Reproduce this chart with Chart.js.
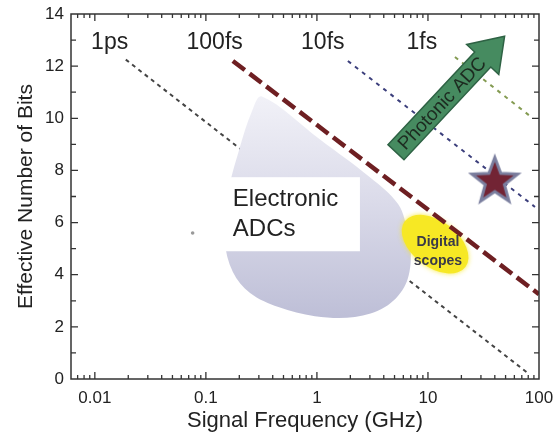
<!DOCTYPE html>
<html>
<head>
<meta charset="utf-8">
<script src="https://cdn.jsdelivr.net/npm/chart.js@4.4.1/dist/chart.umd.min.js"></script>
<style>
  html, body { margin: 0; padding: 0; background: #fff; }
  #wrap { width: 554px; height: 439px; position: relative; }
</style>
</head>
<body>
<div id="wrap"><canvas id="enobChart"></canvas></div>
<script>
// axis ticks
const xMajorTicks = [0.01, 0.1, 1, 10, 100];
const xTickLabels = ["0.01", "0.1", "1", "10", "100"];
const yTicks = [0, 2, 4, 6, 8, 10, 12, 14];

// jitter-limit lines, [start, end] in GHz / ENOB
const jitterNames = ["1ps", "100fs", "10fs", "1fs"];
const jitterFreq = [[0.019, 78], [0.175, 100], [1.9, 92], [17.5, 88]];
const jitterEnob = [[12.25, 0.25], [12.2, 3.25], [12.2, 6.6], [12.35, 10.0]];
const jitterLabelFreq = [0.0136, 0.12, 1.13, 8.8];
const jitterLabelEnob = 12.9;

// outline of the electronic ADC cloud
const regionFreq = [1.06, 3.0, 5.4, 6.6, 7.0, 6.1, 4.1, 2.2, 0.96, 0.45, 0.25, 0.175, 0.148, 0.158, 0.20, 0.26, 0.32, 1.06];
const regionEnob = [9.2, 7.74, 6.7, 5.56, 4.52, 3.52, 2.76, 2.38, 2.41, 2.76, 3.3, 4.1, 5.3, 7.09, 8.81, 10.27, 10.84, 9.2];

// stray point left of the cloud
const strayFreq = [0.076];
const strayEnob = [5.6];

// photonic ADC result
const starFreq = [40];
const starEnob = [7.65];

const FONT = "'Liberation Sans', Arial, sans-serif";

// minor log ticks between decades
const xMinorTicks = [];
[0.001, 0.01, 0.1, 1, 10].forEach(d => {
  for (let m = 2; m <= 9; m++) xMinorTicks.push(+(d * m).toPrecision(3));
});
const xAllTicks = xMinorTicks.concat(xMajorTicks).sort((a, b) => a - b);

function toPoints(xs, ys) {
  return xs.map((v, i) => ({ x: v, y: ys[i] }));
}

function starImage(size) {
  const c = document.createElement("canvas");
  c.width = c.height = size;
  const g = c.getContext("2d");
  const cx = size / 2, cy = size / 2 + 2, R = size / 2 - 3, r = R * 0.42;
  g.beginPath();
  for (let i = 0; i < 10; i++) {
    const a = -Math.PI / 2 + i * Math.PI / 5;
    const rad = i % 2 ? r : R;
    g.lineTo(cx + rad * Math.cos(a), cy + rad * Math.sin(a));
  }
  g.closePath();
  g.fillStyle = "#722434";
  g.fill();
  g.lineWidth = 3;
  g.strokeStyle = "#7b7f9f";
  g.stroke();
  return c;
}

const jitterStyles = [
  { color: "#444444", width: 2, dash: [4, 4] },
  { color: "#6e1f22", width: 4.5, dash: [15, 6] },
  { color: "#3c3f7c", width: 2, dash: [4, 5] },
  { color: "#849b52", width: 2, dash: [4, 5] }
];
const jitterOrder = [6, 4, 3, 2];

const datasets = jitterNames.map((name, i) => ({
  label: name,
  data: toPoints(jitterFreq[i], jitterEnob[i]),
  showLine: true,
  borderColor: jitterStyles[i].color,
  borderWidth: jitterStyles[i].width,
  borderDash: jitterStyles[i].dash,
  pointRadius: 0,
  fill: false,
  order: jitterOrder[i]
}));

datasets.push({
  label: "Electronic ADCs",
  data: toPoints(regionFreq, regionEnob),
  showLine: true,
  tension: 0.35,
  borderWidth: 0,
  borderColor: "rgba(0,0,0,0)",
  pointRadius: 0,
  fill: "shape",
  backgroundColor: ctx => {
    const chart = ctx.chart;
    if (!chart.chartArea) return "#d0d0e2";
    const y = chart.scales.y;
    const g = chart.ctx.createLinearGradient(0, y.getPixelForValue(11), 0, y.getPixelForValue(2.4));
    g.addColorStop(0, "rgba(242,242,248,1)");
    g.addColorStop(0.5, "rgba(218,218,233,1)");
    g.addColorStop(1, "rgba(190,191,215,1)");
    return g;
  },
  order: 5
});

datasets.push({
  label: "stray",
  data: toPoints(strayFreq, strayEnob),
  pointRadius: 1.8,
  pointBackgroundColor: "#999",
  pointBorderWidth: 0,
  order: 5
});

datasets.push({
  label: "Photonic ADC",
  data: toPoints(starFreq, starEnob),
  pointStyle: starImage(54),
  pointRadius: 22,
  order: 1
});

function px(chart, f, e) {
  return [chart.scales.x.getPixelForValue(f), chart.scales.y.getPixelForValue(e)];
}

// annotations drawn in data space
const notes = {
  id: "notes",
  beforeDatasetDraw(chart, args) {
    if (chart.data.datasets[args.index].label !== "100fs") return;
    const ctx = chart.ctx;
    ctx.save();
    // digital scopes ellipse
    const [ex, ey] = px(chart, 11.6, 5.17);
    ctx.fillStyle = "rgba(247,232,35,0.95)";
    ctx.shadowColor = "rgba(247,232,35,0.9)";
    ctx.shadowBlur = 5;
    ctx.beginPath();
    ctx.ellipse(ex, ey, 38, 23, 37 * Math.PI / 180, 0, Math.PI * 2);
    ctx.fill();
    ctx.shadowBlur = 0;
    ctx.fillStyle = "#3a3a48";
    ctx.font = "bold 14px " + FONT;
    ctx.textAlign = "center";
    ctx.textBaseline = "middle";
    const [dx, dy1] = px(chart, 12.3, 5.25);
    const [, dy2] = px(chart, 12.3, 4.52);
    ctx.fillText("Digital", dx, dy1);
    ctx.fillText("scopes", dx, dy2);
    // white label box
    const [bx1, by1] = px(chart, 0.139, 7.74);
    const [bx2, by2] = px(chart, 2.44, 4.9);
    ctx.fillStyle = "#fff";
    ctx.fillRect(bx1, by1, bx2 - bx1, by2 - by1);
    ctx.fillStyle = "#222";
    ctx.font = "24px " + FONT;
    ctx.textAlign = "left";
    const [tx, ty1] = px(chart, 0.175, 6.9);
    const [, ty2] = px(chart, 0.175, 5.75);
    ctx.fillText("Electronic", tx, ty1);
    ctx.fillText("ADCs", tx, ty2);
    ctx.restore();
  },
  afterDatasetsDraw(chart) {
    const ctx = chart.ctx;
    ctx.save();
    // jitter labels
    ctx.fillStyle = "#222";
    ctx.font = "23px " + FONT;
    ctx.textAlign = "center";
    ctx.textBaseline = "middle";
    jitterNames.forEach((n, i) => {
      const [lx, ly] = px(chart, jitterLabelFreq[i], jitterLabelEnob);
      ctx.fillText(n, lx, ly);
    });
    // photonic ADC arrow
    const [ax, ay] = px(chart, 5.15, 8.7);
    const [bx, by] = px(chart, 49, 13.15);
    const ang = Math.atan2(by - ay, bx - ax);
    const L = Math.hypot(bx - ax, by - ay);
    const sw = 11, hw = 22, hl = 32;
    ctx.translate(ax, ay);
    ctx.rotate(ang);
    ctx.beginPath();
    ctx.moveTo(0, -sw);
    ctx.lineTo(L - hl, -sw);
    ctx.lineTo(L - hl, -hw);
    ctx.lineTo(L, 0);
    ctx.lineTo(L - hl, hw);
    ctx.lineTo(L - hl, sw);
    ctx.lineTo(0, sw);
    ctx.closePath();
    ctx.fillStyle = "#468b60";
    ctx.fill();
    ctx.lineWidth = 1.5;
    ctx.strokeStyle = "#2e6244";
    ctx.stroke();
    ctx.fillStyle = "#1d2b20";
    ctx.font = "19px " + FONT;
    ctx.fillText("Photonic ADC", 67, 1);
    ctx.restore();
  }
};

// box, inward ticks on all four sides, and tick labels
const frame = {
  id: "frame",
  afterDraw(chart) {
    const { ctx, chartArea: a, scales: { x, y } } = chart;
    ctx.save();
    ctx.strokeStyle = "#333";
    ctx.lineWidth = 1.5;
    ctx.strokeRect(a.left, a.top, a.right - a.left, a.bottom - a.top);
    ctx.lineWidth = 1.3;
    ctx.beginPath();
    xAllTicks.forEach(v => {
      const p = x.getPixelForValue(v);
      if (p < a.left + 1 || p > a.right - 1) return;
      const len = xMajorTicks.includes(v) ? 7 : 4;
      ctx.moveTo(p, a.bottom); ctx.lineTo(p, a.bottom - len);
      ctx.moveTo(p, a.top); ctx.lineTo(p, a.top + len);
    });
    for (let v = 1; v < 14; v++) {
      const p = y.getPixelForValue(v);
      const len = yTicks.includes(v) ? 7 : 5;
      ctx.moveTo(a.left, p); ctx.lineTo(a.left + len, p);
      ctx.moveTo(a.right, p); ctx.lineTo(a.right - len, p);
    }
    ctx.stroke();

    ctx.fillStyle = "#222";
    ctx.font = "17px " + FONT;
    ctx.textBaseline = "middle";
    ctx.textAlign = "center";
    xMajorTicks.forEach((v, i) => {
      ctx.fillText(xTickLabels[i], x.getPixelForValue(v), a.bottom + 19);
    });
    ctx.textAlign = "right";
    yTicks.forEach(v => {
      ctx.fillText(String(v), a.left - 7, y.getPixelForValue(v));
    });
    ctx.restore();
  }
};

new Chart(document.getElementById("enobChart"), {
  type: "scatter",
  data: { datasets },
  options: {
    responsive: true,
    maintainAspectRatio: false,
    animation: false,
    layout: { autoPadding: false, padding: { top: 14, right: 15, left: 0, bottom: 0 } },
    plugins: { legend: { display: false }, tooltip: { enabled: false } },
    scales: {
      x: {
        type: "logarithmic",
        min: 0.0061,
        max: 100,
        grid: { display: false, drawTicks: false },
        border: { display: false },
        afterBuildTicks: s => { s.ticks = xAllTicks.map(v => ({ value: v })); },
        afterFit: s => { s.height = 60; },
        ticks: { display: false },
        title: {
          display: true,
          text: "Signal Frequency (GHz)",
          color: "#222",
          font: { family: FONT, size: 22 },
          padding: { top: 0, bottom: 5 }
        }
      },
      y: {
        min: 0,
        max: 14,
        grid: { display: false, drawTicks: false },
        border: { display: false },
        afterBuildTicks: s => { s.ticks = yTicks.map(v => ({ value: v })); },
        afterFit: s => { s.width = 71; },
        ticks: { display: false },
        title: {
          display: true,
          text: "Effective Number of Bits",
          color: "#222",
          font: { family: FONT, size: 21 },
          padding: { top: 14, bottom: 0 }
        }
      }
    }
  },
  plugins: [notes, frame]
});
</script>
</body>
</html>
